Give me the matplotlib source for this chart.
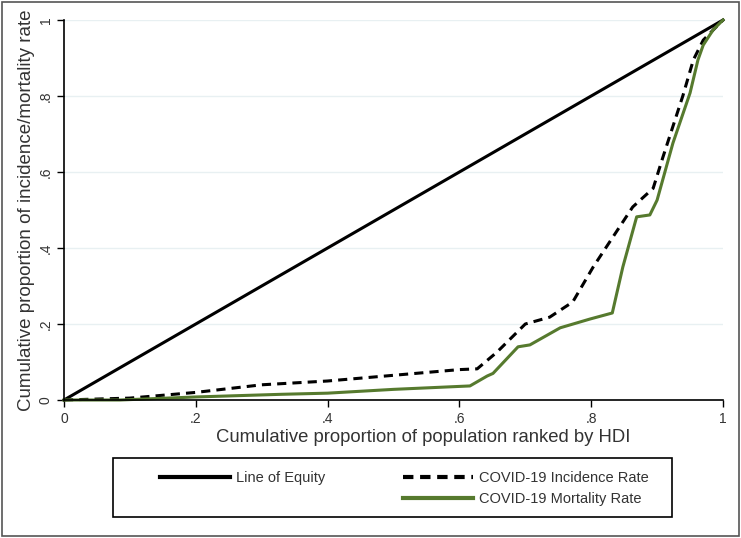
import matplotlib.pyplot as plt
from matplotlib.lines import Line2D
from matplotlib.patches import Rectangle

plt.rcParams['font.family'] = ['Liberation Sans', 'DejaVu Sans']

# cumulative proportion of population ranked by HDI
equity_x = [0.0, 1.0]
equity_y = [0.0, 1.0]

incidence_x = [0.0, 0.10, 0.20, 0.30, 0.40, 0.50, 0.60, 0.627, 0.657, 0.70,
               0.737, 0.772, 0.803, 0.863, 0.894, 0.909, 0.939, 0.955, 0.97, 1.0]
incidence_y = [0.0, 0.005, 0.02, 0.04, 0.05, 0.065, 0.08, 0.082, 0.126, 0.20,
               0.218, 0.258, 0.35, 0.508, 0.557, 0.64, 0.80, 0.895, 0.947, 1.0]

mortality_x = [0.0, 0.085, 0.20, 0.33, 0.40, 0.50, 0.616, 0.642, 0.651, 0.689,
               0.707, 0.753, 0.798, 0.832, 0.848, 0.869, 0.889, 0.90, 0.924,
               0.95, 0.962, 0.97, 0.985, 1.0]
mortality_y = [0.0, 0.0, 0.008, 0.015, 0.018, 0.028, 0.037, 0.063, 0.07, 0.14,
               0.145, 0.19, 0.213, 0.229, 0.35, 0.482, 0.487, 0.526, 0.676,
               0.808, 0.895, 0.934, 0.974, 1.0]

ticks = [0, 0.2, 0.4, 0.6, 0.8, 1.0]
tick_labels = ['0', '.2', '.4', '.6', '.8', '1']

green = '#567a2e'

fig = plt.figure(figsize=(7.41, 5.38), dpi=100)
ax = fig.add_axes([64 / 741, 138 / 538, 659 / 741, 380 / 538])

ax.plot(equity_x, equity_y, color='black', lw=2.2, clip_on=False)
ax.plot(incidence_x, incidence_y, color='black', lw=2.2, dashes=(3, 2), clip_on=False)
ax.plot(mortality_x, mortality_y, color=green, lw=2.2, clip_on=False)

ax.set_xlim(0, 1)
ax.set_ylim(0, 1)
ax.set_xticks(ticks)
ax.set_xticklabels(tick_labels)
ax.set_yticks(ticks)
ax.set_yticklabels(tick_labels, rotation=90, va='center')
ax.tick_params(labelsize=10, length=5, width=1, direction='out', colors='black')
ax.tick_params(axis='y', pad=3)
for lab in ax.get_xticklabels() + ax.get_yticklabels():
    lab.set_color('#333333')

ax.grid(axis='y', color='#e8f0f2', lw=1)
ax.set_axisbelow(True)
for s in ['top', 'right']:
    ax.spines[s].set_visible(False)
for s in ['left', 'bottom']:
    ax.spines[s].set_linewidth(1.2)

ax.set_xlabel('Cumulative proportion of population ranked by HDI', fontsize=13.3,
              color='#333333')
ax.xaxis.set_label_coords(0.545, -0.076, transform=ax.transAxes)
ax.xaxis.label.set_va('top')
ax.set_ylabel('Cumulative proportion of incidence/mortality rate', fontsize=13.5,
              color='#333333', labelpad=3)

# legend box drawn separately, items placed inside
fig.patches.append(Rectangle((113 / 741, 1 - 517 / 538), 559 / 741, 59 / 538,
                             transform=fig.transFigure, fill=False,
                             edgecolor='black', lw=1.2))
handles = [Line2D([], [], color='black', lw=3),
           Line2D([], [], color='none'),
           Line2D([], [], color='black', lw=3, dashes=(2.5, 1.6)),
           Line2D([], [], color=green, lw=3)]
labels = ['Line of Equity', '', 'COVID-19 Incidence Rate', 'COVID-19 Mortality Rate']
leg = fig.legend(handles, labels, ncol=2, loc='upper left',
                 bbox_to_anchor=(160 / 741, 1 - 471 / 538),
                 fontsize=10.5, handlelength=4.8, handletextpad=0.4,
                 columnspacing=5.35, labelspacing=0.5, frameon=False,
                 borderpad=0, borderaxespad=0)
for t in leg.get_texts():
    t.set_color('#333333')

fig.patches.append(Rectangle((2 / 741, 2 / 538), 737 / 741, 534 / 538,
                             transform=fig.transFigure, fill=False,
                             edgecolor='#555555', lw=1.2))

fig.savefig('out.png', dpi=100)
